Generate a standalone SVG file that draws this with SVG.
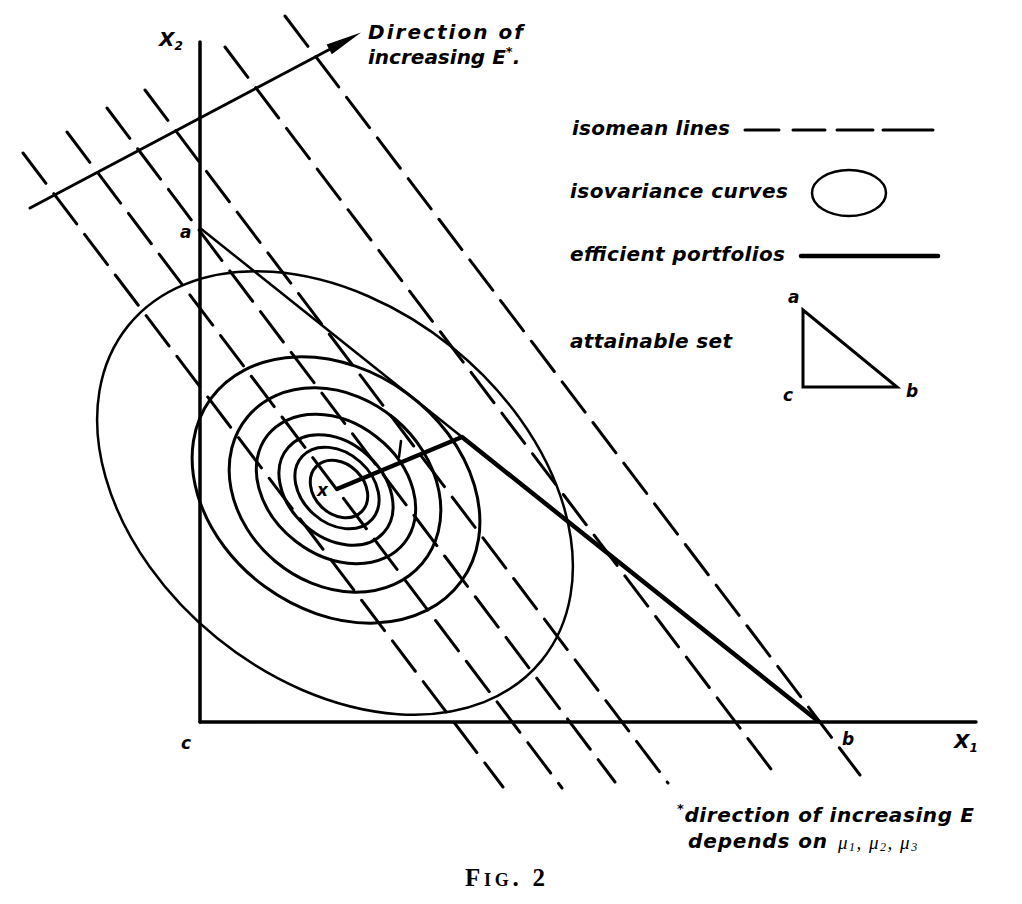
<svg xmlns="http://www.w3.org/2000/svg" width="1022" height="904" viewBox="0 0 1022 904">
  <style>
    .ln { stroke: #000; fill: none; stroke-linecap: round; }
    .axis { stroke-width: 3.5; }
    .iso { stroke-width: 3; stroke-dasharray: 38 13; }
    .ell { stroke-width: 3; }
    .lbl { font-family: "DejaVu Sans", "Liberation Sans", sans-serif; font-weight: bold; font-style: italic; font-size: 20px; fill: #000; }
    .pt { font-family: "DejaVu Sans", "Liberation Sans", sans-serif; font-weight: bold; font-style: italic; font-size: 17px; fill: #000; }
    .mu { font-family: "Liberation Serif", serif; font-style: italic; font-size: 19px; fill: #000; }
    .cap { font-family: "Liberation Serif", serif; font-weight: bold; font-size: 25px; font-variant: small-caps; fill: #000; }
  </style>
  <rect width="1022" height="904" fill="#fff"/>

  <g id="isomean-lines" class="ln iso">
    <line x1="285" y1="16" x2="860" y2="775"/>
    <line x1="225" y1="47" x2="777" y2="777"/>
    <line x1="145" y1="90" x2="668" y2="783"/>
    <line x1="107" y1="108" x2="615" y2="782"/>
    <line x1="67" y1="132" x2="562" y2="788"/>
    <line x1="23" y1="153" x2="503" y2="787"/>
  </g>

  <g id="isovariance-curves" class="ln ell">
    <ellipse cx="335" cy="493" rx="266" ry="187" transform="rotate(39 335 493)" stroke-width="2.5"/>
    <ellipse cx="336" cy="490" rx="155" ry="120" transform="rotate(36 336 490)"/>
    <ellipse cx="335" cy="490" rx="114" ry="93" transform="rotate(40 335 490)"/>
    <ellipse cx="336" cy="489" rx="87" ry="66" transform="rotate(38 336 489)"/>
    <ellipse cx="336" cy="490" rx="64" ry="47" transform="rotate(42 336 490)"/>
    <ellipse cx="337" cy="488" rx="47" ry="35" transform="rotate(42 337 488)"/>
    <ellipse cx="339" cy="489" rx="32" ry="25" transform="rotate(45 339 489)"/>
  </g>

  <g id="axes" class="ln axis">
    <line x1="200" y1="42" x2="200" y2="722"/>
    <line x1="200" y1="722" x2="976" y2="722"/>
  </g>

  <g id="attainable-set-edge">
    <line class="ln" x1="200" y1="228" x2="462" y2="437" stroke-width="2.5"/>
  </g>

  <g id="efficient-portfolios">
    <polyline class="ln" points="337,489 462,437 818,721" stroke-width="4.5" stroke-linejoin="round"/>
    <line class="ln" x1="401" y1="441" x2="399" y2="457" stroke-width="2.5"/>
  </g>

  <g id="direction-arrow">
    <line class="ln" x1="30" y1="208" x2="336" y2="46" stroke-width="3"/>
    <polygon points="361,32.5 331.8,54.3 326.6,44.5" fill="#000"/>
  </g>

  <g id="axis-labels">
    <text class="lbl" x="159" y="46">X<tspan font-size="12" dy="4">2</tspan></text>
    <text class="lbl" x="954" y="748">X<tspan font-size="12" dy="4">1</tspan></text>
    <text class="pt" x="180" y="238">a</text>
    <text class="pt" x="181" y="749">c</text>
    <text class="pt" x="842" y="745">b</text>
    <text class="pt" x="317" y="496" font-size="13">x</text>
  </g>

  <g id="direction-label">
    <text class="lbl" x="368" y="39" textLength="155" lengthAdjust="spacing">Direction of</text>
    <text class="lbl" x="368" y="64">increasing E<tspan font-size="13" dy="-8">*</tspan><tspan dy="8">.</tspan></text>
  </g>

  <g id="legend-isomean">
    <text class="lbl" x="572" y="135" textLength="158" lengthAdjust="spacing">isomean lines</text>
    <g class="ln" stroke-width="3">
      <line x1="745" y1="130" x2="779" y2="130"/>
      <line x1="793" y1="130" x2="825" y2="130"/>
      <line x1="837" y1="130" x2="873" y2="130"/>
      <line x1="883" y1="130" x2="933" y2="130"/>
    </g>
  </g>

  <g id="legend-isovariance">
    <text class="lbl" x="570" y="198" textLength="218" lengthAdjust="spacing">isovariance curves</text>
    <ellipse class="ln" cx="849" cy="193" rx="37" ry="23" stroke-width="2.5"/>
  </g>

  <g id="legend-efficient">
    <text class="lbl" x="570" y="261" textLength="215" lengthAdjust="spacing">efficient portfolios</text>
    <line class="ln" x1="801" y1="256" x2="938" y2="256" stroke-width="4.5"/>
  </g>

  <g id="legend-attainable">
    <text class="lbl" x="570" y="348" textLength="162" lengthAdjust="spacing">attainable set</text>
    <polygon class="ln" points="803,310 803,387 897,387" stroke-width="3" stroke-linejoin="miter"/>
    <text class="pt" x="788" y="303">a</text>
    <text class="pt" x="783" y="401">c</text>
    <text class="pt" x="906" y="397">b</text>
  </g>

  <g id="footnote">
    <text class="lbl" x="677" y="822" letter-spacing="0.6"><tspan font-size="13" dy="-9">*</tspan><tspan dy="9">direction of increasing E</tspan></text>
    <text class="lbl" x="688" y="848" textLength="139" lengthAdjust="spacing">depends on</text>
    <text class="mu" x="838" y="849" letter-spacing="1.5">μ<tspan font-size="12" dy="2">1</tspan><tspan dy="-2">, μ</tspan><tspan font-size="12" dy="2">2</tspan><tspan dy="-2">, μ</tspan><tspan font-size="12" dy="2">3</tspan></text>
  </g>

  <g id="caption">
    <text class="cap" x="465" y="886" textLength="80" lengthAdjust="spacing">Fig. 2</text>
  </g>
</svg>
